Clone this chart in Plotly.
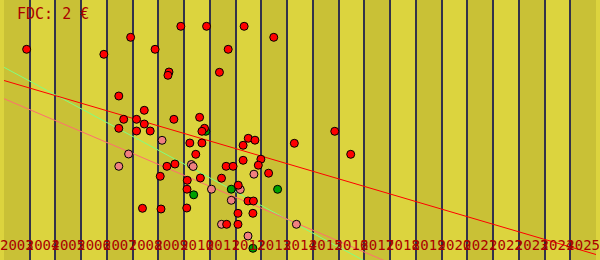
import plotly.graph_objects as go

# ---- data ----
years = list(range(2003, 2026))          # one band per year
year_labels = [str(y) for y in years]

red_x = [2003.88, 2006.88, 2007.92, 2008.87, 2009.87, 2010.87, 2012.33, 2013.48, 2011.71, 2011.37,
         2009.41, 2009.37, 2007.46, 2008.45, 2007.65, 2008.15, 2008.45, 2007.46, 2008.15, 2008.68,
         2009.60, 2010.60, 2010.79, 2010.69, 2010.22, 2010.69, 2010.45, 2009.64, 2009.33, 2009.07,
         2010.63, 2010.12, 2010.11, 2008.38, 2009.10, 2010.10, 2012.49, 2012.75, 2012.29, 2014.28,
         2012.29, 2012.98, 2012.88, 2011.63, 2011.90, 2013.28, 2011.45, 2012.10, 2012.48, 2012.69,
         2012.09, 2012.67, 2011.65, 2012.09, 2015.85, 2016.47]
red_y = [21.07, 20.57, 22.27, 21.07, 23.37, 23.37, 23.37, 22.27, 21.07, 18.77,
         18.80, 18.47, 16.40, 14.97, 14.07, 14.07, 13.60, 13.17, 12.90, 12.90,
         14.07, 14.27, 13.17, 12.87, 11.70, 11.70, 10.57, 9.60, 9.37, 8.37,
         8.20, 7.97, 7.08, 5.17, 5.10, 5.20, 12.17, 11.98, 11.47, 11.67,
         9.97, 10.08, 9.48, 9.37, 9.37, 8.68, 8.18, 7.48, 5.90, 5.90,
         4.67, 4.67, 3.57, 3.57, 12.87, 10.57]

pink_x = [2009.14, 2007.84, 2007.46, 2010.28, 2010.35, 2011.06, 2012.18, 2012.71, 2011.83, 2011.45,
          2014.36, 2012.48]
pink_y = [11.97, 10.60, 9.37, 9.55, 9.35, 7.08, 7.05, 8.58, 5.97, 3.57,
          3.57, 2.40]

green_x = [2010.84, 2010.37, 2011.83, 2013.63, 2012.67]
green_y = [12.87, 6.52, 7.08, 7.07, 1.17]

trend_x = [2003, 2026]
trend_red = [17.95, 0.55]
trend_pink = [16.13, -9.07]
trend_green = [19.27, -12.53]

title_text = "FDC: 2 €"

# ---- figure ----
BAND_DARK = "#c9c136"
BAND_LIGHT = "#dcd43e"
TXT = "#aa0000"
FONT = "DejaVu Sans Mono"

fig = go.Figure()

fig.add_trace(go.Scatter(x=trend_x, y=trend_green, mode="lines",
                         line=dict(color="#80ff80", width=1), hoverinfo="skip"))
fig.add_trace(go.Scatter(x=trend_x, y=trend_pink, mode="lines",
                         line=dict(color="#ff6f6f", width=1), hoverinfo="skip"))
fig.add_trace(go.Scatter(x=trend_x, y=trend_red, mode="lines",
                         line=dict(color="#ff0000", width=1), hoverinfo="skip"))

mk = dict(size=8, line=dict(color="#000000", width=1))
fig.add_trace(go.Scatter(x=green_x, y=green_y, mode="markers",
                         marker=dict(color="#00a000", **mk)))
fig.add_trace(go.Scatter(x=pink_x, y=pink_y, mode="markers",
                         marker=dict(color="#f08080", **mk)))
fig.add_trace(go.Scatter(x=red_x, y=red_y, mode="markers",
                         marker=dict(color="#ff0000", **mk)))

shapes = []
for i, y in enumerate(years):
    if i % 2 == 0:
        shapes.append(dict(type="rect", xref="x", yref="paper", x0=y, x1=y + 1, y0=0, y1=1,
                           fillcolor=BAND_DARK, line=dict(width=0), layer="below"))

fig.update_layout(
    width=600, height=260,
    margin=dict(l=0, r=0, t=0, b=0),
    paper_bgcolor=BAND_LIGHT, plot_bgcolor=BAND_LIGHT,
    showlegend=False,
    shapes=shapes,
    annotations=[dict(text=title_text, xref="paper", yref="paper", x=0.028, y=1.0,
                      xanchor="left", yanchor="top", showarrow=False, xshift=-6, yshift=-3,
                      font=dict(family=FONT, size=15, color=TXT))],
)
fig.update_xaxes(
    range=[years[0], years[-1] + 1], showgrid=False, zeroline=False, showline=False,
    tickmode="array", tickvals=[y + 0.5 for y in years], ticktext=year_labels,
    tickangle=0, ticks="", ticklabelposition="inside", ticklabeloverflow="allow",
    ticklabelstandoff=4,
    tickfont=dict(family=FONT, size=14, color=TXT),
    minor=dict(tickmode="array", tickvals=years + [years[-1] + 1], showgrid=True,
               gridcolor="#33334a", gridwidth=1.5),
)
fig.update_yaxes(range=[0, 26], showgrid=False, zeroline=False, showline=False,
                 showticklabels=False, ticks="")

fig.write_html("out.html")
